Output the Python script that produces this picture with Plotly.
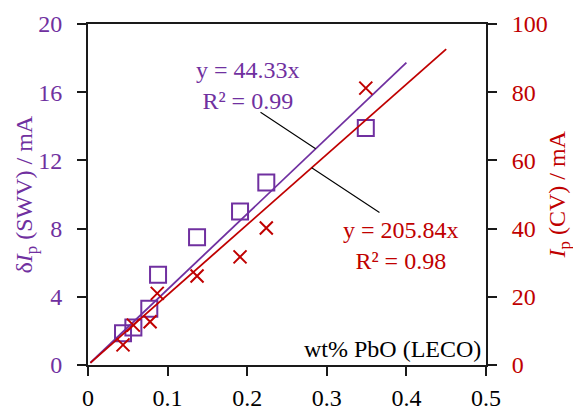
import plotly.graph_objects as go

# Data
wt_pbo = [0.044, 0.057, 0.077, 0.088, 0.137, 0.191, 0.224, 0.349]
swv_ip = [1.86, 2.2, 3.3, 5.3, 7.5, 9.0, 10.7, 13.9]          # left axis, squares
cv_x = [0.044, 0.057, 0.078, 0.087, 0.137, 0.191, 0.224, 0.349]
cv_ip = [5.9, 11.7, 12.7, 21.0, 26.1, 31.7, 40.2, 81.2]        # right axis, crosses

swv_slope = 44.33
cv_slope = 205.84
swv_fit_x = [0.003, 0.40]
cv_fit_x = [0.003, 0.45]

x_ticks = [0, 0.1, 0.2, 0.3, 0.4, 0.5]
y_ticks = [0, 4, 8, 12, 16, 20]
y2_ticks = [0, 20, 40, 60, 80, 100]

PURPLE = "#7030A0"
RED = "#C00000"
AXIS = "#1a1a1a"
FONT = "Liberation Serif"
FS = 24

fig = go.Figure()

fig.add_trace(go.Scatter(
    x=wt_pbo, y=swv_ip, mode="markers", yaxis="y",
    marker=dict(symbol="square-open", size=16, color=PURPLE, line=dict(width=2, color=PURPLE)),
    showlegend=False, hoverinfo="skip"))
fig.add_trace(go.Scatter(
    x=cv_x, y=cv_ip, mode="markers", yaxis="y2",
    marker=dict(symbol="x-thin", size=13, color=RED, line=dict(width=2, color=RED)),
    showlegend=False, hoverinfo="skip"))
fig.add_trace(go.Scatter(
    x=swv_fit_x, y=[swv_slope * v for v in swv_fit_x], mode="lines", yaxis="y",
    line=dict(color=PURPLE, width=1.8), showlegend=False, hoverinfo="skip"))
fig.add_trace(go.Scatter(
    x=cv_fit_x, y=[cv_slope * v for v in cv_fit_x], mode="lines", yaxis="y2",
    line=dict(color=RED, width=1.8), showlegend=False, hoverinfo="skip"))

common_axis = dict(showline=True, linecolor=AXIS, linewidth=2, ticks="outside",
                   ticklen=9, tickwidth=2, tickcolor=AXIS, showgrid=False,
                   zeroline=False, automargin=False)

fig.update_layout(
    width=573, height=410,
    margin=dict(l=88, r=87, t=24, b=45, autoexpand=False),
    paper_bgcolor="white", plot_bgcolor="white",
    font=dict(family=FONT, size=FS, color="black"),
    xaxis=dict(range=[0, 0.5], tickvals=x_ticks, ticktext=[str(v) for v in x_ticks],
               tickfont=dict(color="black", size=FS), mirror=True,
               ticklabelstandoff=1, **common_axis),
    yaxis=dict(range=[0, 20], tickvals=y_ticks, tickfont=dict(color=PURPLE, size=FS),
               ticklabelstandoff=10, **common_axis),
    yaxis2=dict(range=[0, 100], tickvals=y2_ticks, tickfont=dict(color=RED, size=FS),
                overlaying="y", side="right", ticklabelstandoff=10, **common_axis),
)

annotations = [
    # regression labels
    dict(x=0.2006, y=16.39, xref="x", yref="y", text="y = 44.33x<br>R² = 0.99",
         showarrow=False, font=dict(color=PURPLE, size=FS), xanchor="center", yanchor="middle"),
    dict(x=0.393, y=34.9, xref="x", yref="y2", text="y = 205.84x<br>R² = 0.98",
         showarrow=False, font=dict(color=RED, size=FS), xanchor="center", yanchor="middle"),
    # leader lines
    dict(x=0.286, y=swv_slope * 0.286, xref="x", yref="y", ax=0.2161, ay=14.84,
         axref="x", ayref="y", text=" ", font=dict(size=1), borderpad=0,
         showarrow=True, arrowhead=0, arrowwidth=1.1,
         arrowcolor="black", standoff=0, startstandoff=0),
    dict(x=0.281, y=cv_slope * 0.281, xref="x", yref="y2", ax=0.3668, ay=44.6,
         axref="x", ayref="y2", text=" ", font=dict(size=1), borderpad=0,
         showarrow=True, arrowhead=0, arrowwidth=1.1,
         arrowcolor="black", standoff=0, startstandoff=0),
    # x axis title inside plot
    dict(x=0.4962, y=0, xref="x", yref="y", text="wt% PbO (LECO)", showarrow=False,
         font=dict(color="black", size=FS), xanchor="right", yanchor="bottom", yshift=1),
    # y axis titles
    dict(x=0, y=0.5, xref="paper", yref="paper", xshift=-63,
         text="δ<i>I</i><sub>p</sub> (SWV) / mA", textangle=-90, showarrow=False,
         font=dict(color=PURPLE, size=FS), xanchor="center", yanchor="middle"),
    dict(x=1, y=0.5, xref="paper", yref="paper", xshift=72,
         text="<i>I</i><sub>p</sub> (CV) / mA", textangle=-90, showarrow=False,
         font=dict(color=RED, size=FS), xanchor="center", yanchor="middle"),
]
fig.update_layout(annotations=annotations)

fig.write_html("out.html")
